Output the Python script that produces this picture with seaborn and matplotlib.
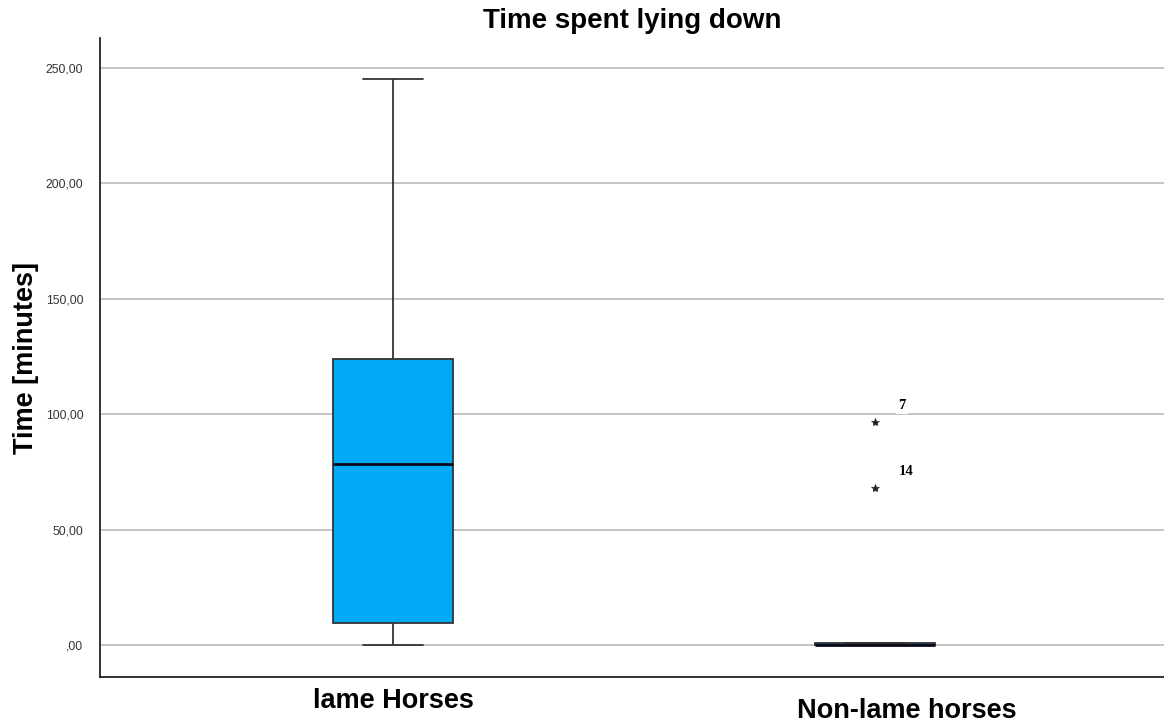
import matplotlib
matplotlib.use("Agg")
import matplotlib.pyplot as plt
import matplotlib.transforms as mtransforms
import numpy as np
import pandas as pd
import seaborn as sns

# Lying-down time (minutes) per horse, by group
groups = ["lame Horses", "Non-lame horses"]
lame_minutes = [0.0, 5.0, 9.5, 40.0, 78.6, 100.0, 124.1, 180.0, 245.2]
nonlame_minutes = [0.0, 0.0, 0.0, 0.0, 0.0, 0.0, 0.0, 0.0,
                   0.5, 1.0, 1.0, 1.0, 1.0, 68.1, 96.4]
# Case numbers of the extreme values in the non-lame group
extreme_values = [96.4, 68.1]
extreme_cases = ["7", "14"]
y_ticks = [0, 50, 100, 150, 200, 250]

df = pd.DataFrame({
    "group": [groups[0]] * len(lame_minutes) + [groups[1]] * len(nonlame_minutes),
    "minutes": lame_minutes + nonlame_minutes,
})

sns.set_style("white")
plt.rcParams["font.family"] = ["Liberation Sans", "DejaVu Sans"]
plt.rcParams["text.color"] = "black"
plt.rcParams["axes.labelcolor"] = "black"

fig = plt.figure(figsize=(11.64, 7.24), dpi=100)
ax = fig.add_axes([100 / 1164, 47 / 724, 1064 / 1164, 639 / 724])

edge = "#333333"
sns.boxplot(
    data=df, x="group", y="minutes", order=groups, ax=ax,
    color="#00aaf5", saturation=1, width=0.25, whis=1.5,
    linecolor=edge, linewidth=1.3,
    medianprops=dict(color="#0a0a1a", linewidth=2.0),
    flierprops=dict(marker="*", markersize=6, markerfacecolor="#222222",
                    markeredgecolor="#222222", markeredgewidth=0.5),
    zorder=3,
)

ax.set_xlim(-0.608, 1.6)
ax.set_ylim(-13.9, 263)
ax.set_yticks(y_ticks)
ax.set_yticklabels([("%.2f" % v).replace(".", ",").lstrip("0") if v == 0
                    else ("%.2f" % v).replace(".", ",") for v in y_ticks])
ax.yaxis.grid(True, color="#b4b4b4", linewidth=1.1, zorder=0)
ax.xaxis.grid(False)
ax.set_axisbelow(True)

for side in ["top", "right"]:
    ax.spines[side].set_visible(False)
for side in ["left", "bottom"]:
    ax.spines[side].set_color("#222222")
    ax.spines[side].set_linewidth(1.3)

ax.tick_params(axis="y", length=0, pad=12, labelsize=8.7, labelcolor="#333333")
ax.tick_params(axis="x", length=0, pad=8, labelsize=19.5, labelcolor="black")
for lbl in ax.get_xticklabels():
    lbl.set_fontweight("bold")
# second category label sits lower and slightly to the right
second = ax.get_xticklabels()[1]
second.set_transform(second.get_transform() +
                     mtransforms.ScaledTranslation(0.32, -0.10, fig.dpi_scale_trans))

ax.set_xlabel("")
ax.set_ylabel("Time [minutes]", fontsize=19.5, fontweight="bold", labelpad=5)
ax.set_title("Time spent lying down", fontsize=20, fontweight="bold", pad=7)

for val, case in zip(extreme_values, extreme_cases):
    ax.annotate(case, xy=(1, val), xytext=(17, 12), textcoords="offset points",
                ha="left", va="center", fontsize=10.5, fontweight="bold",
                family="Liberation Serif",
                bbox=dict(facecolor="white", edgecolor="none", pad=1.5))

fig.savefig("out.png", dpi=100)
